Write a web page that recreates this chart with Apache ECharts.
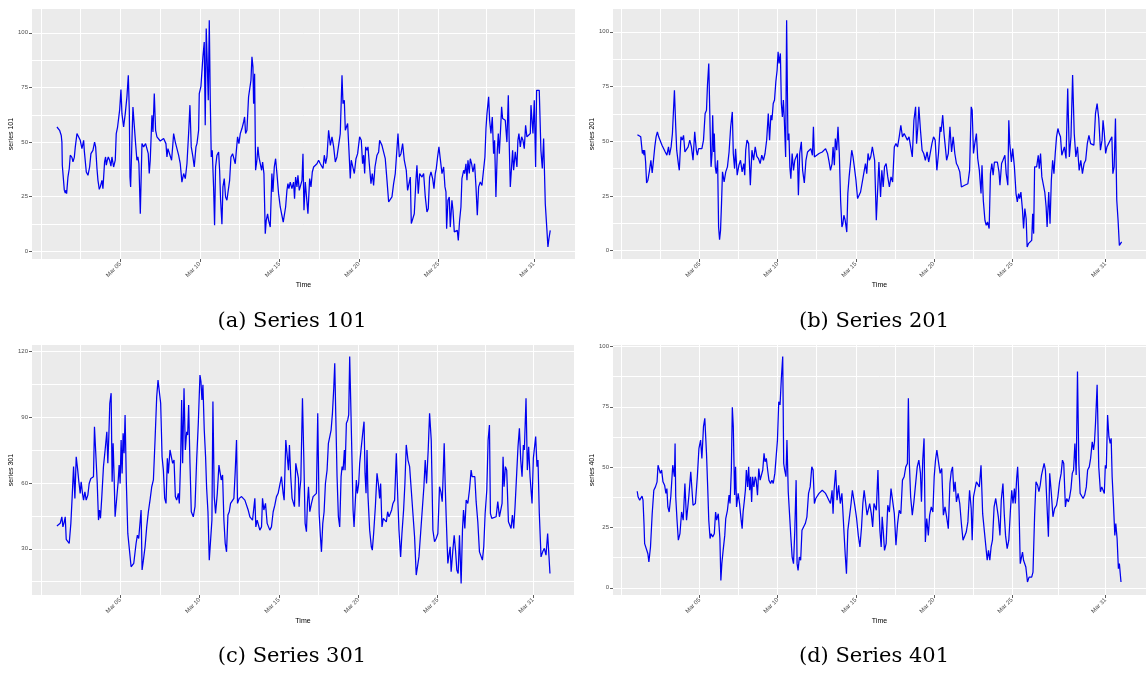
<!DOCTYPE html>
<html>
<head>
<meta charset="utf-8">
<title>Series 101-401</title>
<script src="https://cdn.jsdelivr.net/npm/echarts@6/dist/echarts.min.js"></script>
<style>
  html, body { margin: 0; padding: 0; background: #fff; }
  #chart { width: 1146px; height: 673px; }
</style>
</head>
<body>
<div id="chart"></div>
<script>
// hours since Mar 01 00:00, value
const series101 = [[0.4,56.9],[4.4,55.4],[6.9,53],[7.9,50],[8.5,39.4],[10.5,38.6],[11.5,28],[13,26.7],[14,28],[15,26.4],[17,34],[19,37.9],[20.5,44],[23,43],[24.6,41],[26.6,43],[28.1,47.8],[30.6,53.9],[32.6,54.6],[35.6,50.8],[38.1,47],[40.7,50.8],[41.7,46],[44.7,36.3],[47.2,34.8],[49.7,38.6],[51.7,44.7],[54.7,46.2],[57.2,50],[58.8,47.8],[60.8,37.9],[62.3,32.5],[64.3,28.4],[65.8,29.5],[68.3,32.5],[69.8,28.7],[72.3,40.9],[73.8,43.2],[74.9,39.4],[76.4,41.7],[77.9,43.2],[79.9,41.7],[81.9,39],[83.4,43.2],[85.9,38.6],[88.4,41.7],[89.9,53.9],[91.9,56.9],[95,64.6],[97,74],[98.5,63],[101,56.9],[103.5,63],[106,70.7],[108.1,80.6],[109.6,64.6],[110.6,34],[111.6,29.5],[113.6,50.8],[115.1,66],[117.1,65.8],[119.1,49.3],[121.1,41.7],[122.6,43.2],[124.1,40.1],[126.2,17.2],[128.7,49.3],[131.2,47.8],[134.2,49.3],[136.7,49.3],[138.2,44.7],[139.7,35.6],[141.2,41.7],[143.8,62.3],[145.3,54.6],[147.3,72.2],[149.3,55.4],[151.3,52.4],[156.3,50.5],[161.4,51.6],[164.9,49.3],[166.4,43.2],[167.9,47],[169.9,47.8],[173.4,41.7],[175.4,49.3],[176.5,53.9],[179,50],[181.5,50],[184,44],[186.5,40.1],[189,31.7],[191.6,35.6],[194.1,33.3],[196.6,40.1],[199.1,53.9],[201.1,66.9],[203.1,47.8],[205.6,43.2],[207.6,38.6],[210.2,47.8],[211.7,49.3],[214.2,55.4],[215.2,72.2],[217.7,75.5],[219.2,75.2],[220.7,89],[222.7,95.8],[224.2,57.7],[225.7,102],[227.3,85.2],[228.8,69.1],[230.3,105.8],[231.8,69.1],[233.3,43.2],[234.8,46.2],[236.8,29.5],[238.3,11.9],[239.8,38.6],[241.9,44],[244.4,45.5],[245.9,37.1],[247.4,23.4],[249.4,12.4],[250.9,29.5],[252.9,33.3],[254.9,24.9],[256.9,23.4],[259,24.1],[261,32.5],[263,43.2],[265.5,44.7],[267,44],[269.5,40.1],[271,45.5],[273,52.4],[275,49.3],[277.1,53.9],[279.6,56.2],[282.1,59.2],[283.6,61.5],[285.1,53.9],[287.1,55.4],[289.6,70.7],[291.1,71.4],[293.2,78.3],[294.7,89],[296.2,84.4],[297.2,67.6],[298.7,81.3],[300.2,37.1],[302.2,41.7],[303.7,47.8],[305.2,43.2],[307.2,43.2],[309.3,37.1],[310.8,40.9],[312.8,35.6],[314.8,8.1],[316.3,14.2],[318.3,17.2],[319.8,14.2],[322.3,11.1],[324.8,35.6],[326.4,27.2],[328.4,38.6],[330.4,42.4],[332.4,35.6],[334.9,26.4],[337.4,20.3],[339.9,19.5],[341.9,13.4],[343.5,14.2],[345.5,20.3],[347.5,27.9],[349,31],[350.5,28.7],[352.5,31.7],[355,28.7],[357.5,31.7],[359,24.1],[360.6,34],[362.6,29.5],[364.1,34.8],[366.1,27.9],[367.6,28.7],[368.7,27.9],[370.2,32.5],[371.7,44.7],[373.2,18.8],[375.2,31.7],[377.7,31],[379.2,17.2],[381.8,33.3],[383.8,29.5],[385.8,36.3],[387.8,38.6],[390.3,38.6],[392.8,40.1],[395.3,41.7],[397.9,40.1],[400.4,40.9],[401.9,37.9],[403.9,44],[405.9,40.1],[407.9,43.2],[410.4,55.4],[413,48.5],[415.5,52.4],[418,47.8],[420.5,40.9],[423,43.2],[425.5,44],[428,53.9],[430.6,80.6],[432.1,67.6],[434.1,69.1],[435.6,55.4],[437.1,56.2],[439.1,58.5],[441.1,46.2],[443.1,33.3],[444.6,41.7],[446.7,41.7],[449.2,35.6],[451.7,42.4],[454.2,44.7],[457.2,52.4],[459.7,50.8],[461.7,40.1],[463.3,44],[464.8,35.6],[466.3,47.8],[468.3,46.2],[469.8,47.8],[471.8,40.1],[474.3,31],[476.3,35.6],[478.3,30.2],[480.4,38.6],[483.4,44],[485.9,45.5],[487.4,50.8],[489.4,51.6],[490.9,48.5],[493.4,49.3],[495.9,42.4],[498.5,32.5],[501,22.6],[503.5,21.8],[506,24.9],[508.5,31],[511,35.6],[513.6,34.8],[515.1,53.9],[517.1,43.2],[519.6,44.7],[522.1,49.3],[524.6,41.7],[527.6,37.1],[529.6,27.9],[532.2,28.7],[533.7,34],[535.2,12.7],[537.2,13.4],[539.7,17.2],[542.2,32.5],[543.7,39.4],[545.7,26.4],[547.8,35.6],[549.8,36.3],[551.3,34],[553.8,35.6],[556.3,24.9],[558.8,18],[560.8,19.5],[562.8,34],[564.9,36.3],[567.4,33.3],[569.4,28.7],[571.4,35.6],[572.9,37.9],[574.9,43.2],[576.9,47.8],[578.9,42.4],[581.5,35.6],[584,38.6],[586,29.5],[587.5,27.2],[588.5,10.4],[590.5,23.4],[592.5,24.9],[594,11.1],[596.5,23.4],[598.1,18.8],[600.1,8.9],[602.6,8.1],[604.6,9.6],[606.1,5],[608.1,14.2],[610.1,20.3],[611.6,33.3],[614.2,37.1],[615.7,35.6],[617.7,40.1],[619.2,32.5],[620.7,41.7],[622.7,35.6],[624.2,42.4],[626.2,40.1],[628.2,36.3],[630.7,40.1],[632.8,29.5],[634.8,16.5],[636.8,29.5],[639.3,31.7],[641.8,30.2],[644.3,31],[646.3,43.2],[647.9,56.2],[649.4,63],[651.9,70.7],[653.4,60],[655.4,53.9],[657.4,61.5],[659.4,44.7],[660.9,50.8],[662.9,24.9],[665,46.2],[666.5,53.9],[668,44.7],[670,56.2],[671.5,66.1],[673,60.8],[674.5,60.8],[677,60],[679.5,50],[681.6,71.4],[683.1,47.8],[684.6,29.5],[686.6,29.5],[688.1,46.2],[689.6,37.1],[692.1,45.5],[694.6,38.6],[696.1,50.8],[697.6,53.9],[699.7,47.8],[701.7,52.4],[703.7,50.8],[705.7,47],[707.7,57.7],[709.7,52.4],[712.2,51.6],[714.8,53.9],[715.8,66.9],[717.8,67.6],[718.8,53.9],[720.8,69.1],[722.8,38.6],[724.3,73.7],[725.8,74.5],[728.3,73.7],[730.8,46.2],[732.9,37.9],[734.9,51.6],[737.4,21.8],[739.9,9.6],[741.4,2],[742.9,5.8],[744.9,9.6]];

const series201 = [[0.3,53],[5.4,52],[6.9,51.2],[7.9,44.4],[9.4,45.9],[10.4,43.6],[11.4,45.9],[12.9,40.5],[14.4,30.9],[16.4,32.2],[18.9,36.7],[21,41.3],[23,35.5],[24.5,39.8],[27,47.4],[29,52],[31,54.3],[33,52],[35.5,51.2],[38.1,48.2],[40.6,47.4],[43.1,45.1],[45.6,43.6],[48.1,47.4],[49.6,43.6],[52.1,47.4],[54.1,53.5],[57.2,73.3],[59.2,56.6],[60.7,45.9],[63.2,39.8],[64.7,36.7],[67.2,52],[69.2,50.5],[71.2,52.7],[73.3,45.1],[75.8,44.4],[78.3,47.4],[80.8,50.5],[83.3,47.4],[85.8,41.3],[88.4,54.3],[90.9,45.9],[92.4,43.6],[94.4,46.6],[97.4,47.4],[99.4,46.6],[101.9,50.5],[104.4,62.7],[106.5,64.2],[108,75.6],[110,85.5],[112,56.6],[113.5,38.3],[115,44.4],[116,61.9],[117.5,45.1],[118.5,53.5],[120,38.3],[121.5,35.2],[123.6,41.3],[125.1,10.8],[126.6,5],[128.1,9.3],[129.6,21.5],[131.1,36],[133.6,31.4],[136.1,36],[138.7,38.3],[141.2,45.1],[143.7,56.6],[146.2,63.4],[147.7,44.4],[149.7,37.5],[151.2,46.6],[153.7,34.5],[156.3,39],[158.8,41.3],[161.3,36],[163.8,39.8],[165.3,34.5],[166.8,45.9],[168.8,50.5],[171.3,48.9],[173.9,29.9],[176.4,45.9],[178.9,41.3],[181.4,47.4],[183.9,43.1],[186.4,42.1],[189,39.8],[191.5,43.6],[194,41.3],[196.5,44.4],[199,50.5],[201.5,62.7],[203.5,50.5],[205.5,61.9],[207.1,59.6],[209.1,67.2],[211.1,68.8],[213.1,77.1],[215.1,82.5],[216.6,90.9],[218.1,85.5],[220.1,90.1],[221.6,67.2],[223.2,61.1],[224.7,68.8],[226.2,59.6],[228.2,42.8],[229.7,105.3],[231.7,50.5],[233.2,53.5],[234.7,38.3],[236.2,32.9],[238.2,44.4],[240.3,36.7],[242.3,41.3],[244.3,41.3],[246.3,44.4],[247.8,25.3],[249.8,44.4],[252.3,49.7],[254.3,36.7],[256.9,30.9],[259.4,41.3],[261.9,45.1],[264.4,45.9],[266.9,46.6],[269.4,43.6],[270.9,56.6],[272.4,42.8],[274.5,42.8],[279.5,44.4],[284.5,45.1],[289.6,46.6],[292.6,44.4],[294.6,41.3],[297.1,36.7],[299.6,39.8],[301.1,47.4],[303.1,39],[304.6,51.2],[306.7,45.9],[308.7,56.6],[310.7,44.4],[312.7,23],[314.7,10.8],[316.2,12.3],[317.7,16.2],[319.7,13.9],[322.2,8.5],[323.8,26.1],[325.8,33.7],[327.8,33.7],[329.8,45.9],[331.8,42.8],[333.8,38.3],[336.3,32.2],[338.8,23.8],[341.4,23],[343.4,26.8],[344.9,26.1],[347.4,33.7],[348.9,34.5],[350.9,39.8],[352.9,35.2],[354.9,44.4],[356.9,41.3],[359,42.8],[361.5,47.4],[363.5,48.2],[365,41.3],[367.6,13.9],[370.1,30.6],[371.6,40.5],[374.1,24.5],[376.1,36.7],[378.2,29.1],[380.2,38.3],[382.7,39.8],[385.2,33.7],[387.7,29.1],[390.2,33.7],[392.7,31.4],[395.3,47.4],[397.8,48.9],[400.3,47.4],[402.8,52],[405.3,57.3],[407.8,52],[410.4,53.5],[412.9,52],[415.4,50.5],[417.9,52],[420.4,47.4],[422.9,42.8],[425.4,59.6],[428,65.7],[429.5,48.9],[431.5,56.6],[433,65.7],[435.5,55],[438,45.9],[440.5,44.4],[443,41.3],[445.6,45.1],[448.1,40.5],[450.6,40.5],[453.1,48.9],[455.6,52],[458.1,50.5],[460.7,36.7],[463.2,44.4],[465.7,56.6],[467.2,54.3],[469.7,61.9],[471.7,53.5],[473.2,48.9],[475.7,41.3],[478.3,44.4],[480.8,56.6],[483.3,45.1],[485.8,52],[488.3,44.4],[490.8,39.8],[493.3,38.3],[495.9,36],[498.4,29.1],[500.9,29.1],[503.4,29.9],[505.9,29.1],[508.4,30.6],[511,36.7],[513.5,65.7],[515,64.2],[517,44.4],[519,48.9],[521.5,53.5],[523.5,42.1],[526,36.7],[528.6,26.1],[530.1,39],[532.1,23],[534.6,13.9],[536.6,11.6],[538.6,13.1],[541.1,10.1],[543.1,35.2],[545.2,39.8],[547.2,34.5],[549.2,40.5],[551.2,41.3],[553.7,40.5],[556.2,36],[557.7,29.9],[560.2,39.8],[562.3,41.3],[565.3,43.6],[567.3,35.2],[569.8,29.9],[571.3,59.6],[572.8,48.9],[575.3,40.5],[577.3,46.6],[579.9,38.3],[582.4,26.1],[584.4,22.3],[586.4,26.1],[587.9,23.8],[589.9,26.8],[592.4,18.4],[594,10.1],[596,19.2],[598,14.6],[599.5,1.7],[601.5,3.2],[604,3.2],[606.5,4.7],[608,16.9],[609.5,7.8],[611,38.3],[614.1,38.3],[616.6,43.6],[618.1,37.5],[620.1,44.4],[622.1,33.7],[624.1,33.7],[626.6,26.8],[628.7,20],[630.2,10.8],[632.7,26.8],[634.7,12.3],[636.7,32.2],[638.7,41.3],[640.7,35.2],[642.7,44.4],[644.7,52],[646.8,55.8],[648.8,53.5],[650.8,52],[652.8,43.6],[654.8,44.4],[656.8,47.4],[659.3,42.1],[661.9,74.1],[664.4,42.8],[666.9,52],[669.4,80.2],[671.9,53.5],[674.4,42.8],[676.9,47.4],[679.5,36.7],[682,41.3],[684.5,35.2],[687,39.8],[689.5,41.3],[692,48.9],[694.5,52.7],[697.1,48.9],[699.6,49.7],[702.1,48.2],[704.6,62.7],[707.1,67.2],[709.6,60.4],[712.2,45.9],[714.7,50.5],[716.2,59.6],[718.2,53.5],[720.2,44.4],[722.2,47.4],[724.7,48.9],[727.2,48.9],[729.8,52],[731.3,35.2],[733.3,38.3],[735.3,60.4],[737.3,23],[739.3,13.9],[741.3,2.4],[743.3,3.2],[744.8,4]];

const series301 = [[0.4,40.4],[5.4,41.6],[7.9,44.6],[9.5,40],[11.5,42.3],[13,44.6],[14.5,34.3],[17,34],[19,32.4],[21.5,41.6],[23.5,53.8],[25.6,67.5],[27.6,53],[29.6,72],[31.6,66.7],[33.6,60.6],[35.6,55.3],[37.1,60.6],[39.1,55.3],[40.7,52.2],[42.7,56],[44.7,52.2],[47.2,54.5],[49.2,59.8],[51.7,62.1],[54.2,62.1],[55.7,62.9],[57.2,85.7],[59.3,86.5],[61.3,60.6],[63.3,43.1],[64.8,47.7],[66.3,43.9],[68.3,53.8],[70.8,67.5],[73.3,75.1],[75.9,83.4],[77.4,69],[78.9,81.2],[80.4,96.4],[82.4,101],[83.9,60.6],[85.4,78.1],[86.9,62.9],[88.4,44.6],[90.9,45.4],[93,60.6],[94.5,68.2],[96,59.8],[97.5,79.6],[99,64.4],[100.5,82.7],[102,73.6],[103.5,91.1],[105.5,59.1],[107.6,37],[110.1,29.4],[112.6,21.8],[114.6,22.5],[116.6,23.3],[118.6,22.5],[120.1,32.4],[122.1,36.2],[124.1,34.7],[126.2,34],[127.7,47.7],[129.2,20.3],[131.2,24.8],[133.7,30.9],[136.2,40],[138.7,46.9],[141.2,52.2],[143.8,58.3],[146.3,61.4],[148.8,79.6],[151.3,99.4],[153.3,107],[155.3,106.3],[157.3,96.4],[159.4,72],[161.4,65.9],[163.4,53],[165.4,50.7],[167.4,71.3],[168.9,64.4],[171.4,75.1],[173.4,75.8],[175.4,69],[177.5,70.5],[179.5,53.8],[181.5,52.2],[184,55.3],[185.5,50.7],[187.5,70.5],[189,97.9],[190.5,69],[192.6,103.2],[194.6,75.1],[196.6,83.4],[198.1,81.9],[199.6,95.6],[201.6,69],[203.6,46.9],[206.6,44.6],[209.2,49.2],[211.7,70.5],[214.2,87.3],[216.7,109.3],[218.2,106.3],[219.7,97.9],[221.2,104.8],[223.2,84.2],[225.2,72],[226.8,57.6],[228.8,46.9],[230.8,24.8],[232.8,25.6],[234.8,43.1],[236.3,97.2],[238.3,53.8],[240.3,46.1],[242.9,55.3],[245.4,68.2],[246.9,69],[248.9,61.4],[250.9,63.7],[252.9,43.1],[254.9,32.4],[256.9,28.6],[259,45.4],[261,46.9],[263,50.7],[265.5,51.5],[268,53],[270,65.2],[272,79.6],[273.5,50.7],[276.1,53],[279.6,53.8],[284.6,52.2],[289.6,47.7],[292.2,44.6],[296.2,43.1],[298.2,43.9],[299.7,53],[301.2,40],[303.2,43.1],[305.2,40.8],[307.2,38.5],[309.8,40],[311.3,53],[313.3,47.7],[315.8,50.7],[318.3,41.6],[320.3,42.3],[322.3,38.5],[324.8,40],[327.4,46.9],[329.9,49.9],[332.4,53.8],[334.9,55.3],[337.4,55.3],[339.9,62.9],[342.5,55.3],[344,52.2],[346.5,79.6],[348.5,80.4],[350.5,65.9],[352,77.4],[354,62.9],[356,53],[358,53],[359.6,49.2],[361.6,69],[363.6,68.2],[365.6,62.1],[366.6,49.2],[367.7,56.8],[369.2,61.4],[371.7,98.7],[373.7,72],[375.7,41.6],[377.7,37.8],[379.2,50.7],[380.8,58.3],[382.8,46.9],[385.3,50.7],[387.8,53.8],[390.3,54.5],[392.8,55.3],[394.8,91.8],[396.9,46.1],[398.9,35.5],[400.4,28.6],[402.4,41.6],[404.4,46.9],[406.4,59.8],[408.9,65.9],[410.9,78.1],[413,81.2],[415,84.2],[417,91.8],[419,103.2],[420.5,114.7],[422,91.8],[424,62.9],[426,44.6],[428,40],[430.1,62.9],[431.6,67.5],[433.1,65.9],[435.1,75.1],[436.1,65.9],[438.1,87.3],[440.1,88.8],[441.6,91.1],[443.1,117.7],[444.6,97.9],[446.7,69],[448.2,47.7],[449.7,40],[451.7,39.3],[453.2,61.4],[454.7,55.3],[456.7,59.8],[458.2,69],[460.7,76.6],[463.3,84.2],[464.8,88],[466.3,64.4],[467.8,55.3],[469.3,75.1],[470.8,53.8],[473.3,38.5],[475.8,30.9],[477.3,29.4],[479.3,37],[481.9,49.2],[484.4,64.4],[486.4,59.8],[488.4,53],[489.9,59.8],[491.9,40],[493.9,43.9],[495.9,43.9],[498.5,42.3],[500.5,46.9],[502.5,44.6],[504.5,46.1],[506.5,47.7],[508.5,50.7],[511,52.2],[513.6,73.6],[516.1,50.7],[517.6,38.5],[520.1,26.3],[522.1,37],[524.6,47.7],[526.6,59.8],[528.6,77.4],[531.2,70.5],[533.7,67.5],[536.2,56.8],[538.7,46.1],[541.2,35.5],[543.7,18],[545.7,18],[547.8,26.3],[550.3,37],[552.8,47.7],[555.3,58.3],[557.3,70.5],[559.3,59.8],[561.8,75.1],[563.9,91.8],[566.4,79.6],[568.9,38.5],[571.4,33.2],[573.9,34.7],[576.4,37],[578.9,58.3],[581,56],[583,51.5],[584,59.8],[586,78.1],[587.5,59.1],[589,44.6],[591.5,23.3],[593.5,22.5],[595,30.9],[596.5,19.5],[599.1,29.4],[601.1,36.2],[603.1,29.4],[605.1,20.3],[607.1,18.7],[609.1,36.2],[611.6,14.2],[613.6,38.5],[615.2,47.7],[617.2,39.3],[619.2,52.2],[621.7,50.7],[624.2,56.8],[626.7,65.9],[628.2,62.9],[630.2,62.1],[632.3,62.9],[634.3,51.5],[636.8,42.3],[639.3,28.6],[641.8,29.4],[643.8,24.8],[645.8,30.9],[647.9,46.1],[650.4,56.8],[652.4,79.6],[654.4,86.5],[655.9,46.1],[657.9,43.9],[660.9,43.1],[664.5,44.6],[667,51.5],[669.5,44.6],[671.5,45.4],[673.5,50.7],[675,72],[676.5,58.3],[678.5,67.5],[680.5,65.9],[683.1,42.3],[685.1,41.6],[687.1,39.3],[689.1,45.4],[691.1,39.3],[693.1,49.2],[695.6,64.4],[697.6,76.6],[699.7,85],[701.7,70.5],[703.7,62.9],[705.7,77.4],[707.2,75.1],[709.7,98.7],[711.7,65.9],[713.7,76.6],[715.8,62.9],[717.8,62.1],[718.8,50.7],[720.8,71.3],[722.8,72],[724.3,81.2],[726.3,67.5],[727.8,70.5],[729.8,46.1],[732.4,26.3],[734.9,28.6],[737.4,30.2],[739.9,27.1],[742.4,37],[743.9,37],[745.9,18.7]];

const series401 = [[0,40],[1.3,37.7],[3.8,36.3],[5.9,37],[7.4,38],[8.9,36.3],[10.4,26.6],[11.4,18.3],[12.9,19],[14.4,17.6],[16.4,14.1],[17.9,10.7],[20.4,16.9],[23,30.7],[25.5,40.4],[28,41.8],[30.5,43.9],[32,50.8],[34,50.1],[35.5,47.4],[37.5,48.8],[39.6,43.9],[42.1,42.5],[44.1,39.1],[45.6,41.1],[47.1,33.5],[49.1,31.4],[51.6,37.7],[54.6,50.8],[57.2,46],[58.2,59.8],[59.2,37.7],[61.2,28],[63.2,19.7],[65.7,22.4],[68.2,31.4],[70.7,28],[73.3,43.2],[75.8,28],[79.3,37.7],[82.3,48.1],[85.8,34.2],[89.4,34.9],[92.4,46],[94.9,57.8],[97.4,61.2],[99.4,53.6],[101.9,66.8],[103.9,70.2],[106.5,55.7],[108.5,40.4],[110,28],[112,20.4],[113.5,22.4],[116,21.1],[118.5,22.4],[120.5,31.4],[122.1,28],[124.6,30.7],[127.1,20.4],[128.6,3],[130.1,10],[132.1,15.5],[134.6,21.7],[136.1,28.7],[138.7,32.1],[141.2,38.4],[142.7,34.9],[144.7,48.8],[146.2,74.8],[147.7,66.8],[149.7,38.4],[151.2,50.1],[152.7,33.5],[155.2,39.1],[157.3,34.9],[159.8,28],[161.3,24.5],[162.8,31.4],[164.8,36.3],[166.3,40.4],[167.8,48.8],[169.8,41.8],[171.3,50.1],[172.9,40.4],[174.4,46],[175.9,35.6],[177.4,46],[179.4,41.8],[181.4,46],[182.9,44.6],[184.9,38.4],[186.9,49.4],[189,44.6],[191,44.6],[193,48.8],[195,55.7],[196.5,52.2],[198.5,53.6],[200.5,48.8],[202.5,44.6],[205,43.2],[207.1,44.6],[209.1,43.2],[211.6,47.4],[213.6,48.1],[215.6,61.2],[217.6,77.1],[219.6,75.8],[221.6,86.8],[223.7,95.8],[225.2,51.5],[226.7,48.8],[228.7,46],[230.2,61.2],[232.2,39.8],[234.2,40.4],[236.2,21.1],[238.2,12.7],[240.3,10],[242.3,23.8],[244.3,44.6],[245.8,10],[247.3,7.2],[249.3,12.7],[251.3,11.4],[253.3,23.8],[255.8,23.8],[258.4,26.6],[260.9,29.4],[263.4,39.1],[265.9,41.8],[268.4,50.1],[270.4,48.8],[272.4,34.9],[274.5,37],[279.5,39.1],[284.5,40.4],[289.6,39.1],[292.1,37.7],[294.6,36.3],[297.1,34.9],[299.6,40.4],[301.1,30.7],[302.6,40.4],[305.1,48.8],[307.2,36.3],[309.7,42.5],[312.2,34.9],[314.7,39.1],[317.2,26.6],[319.7,14.1],[321.7,5.8],[323.8,23.8],[325.8,24.5],[328.8,34.9],[330.8,40.4],[332.8,37],[334.8,33.5],[337.3,28.7],[339.9,21.7],[342.4,16.9],[344.9,25.2],[346.9,34.9],[348.9,40.4],[351.4,41.1],[353.4,30.1],[354.9,29.4],[357.4,34.9],[359.9,30.7],[362,25.2],[364,34.9],[365.1,35.6],[367.6,32.1],[370.1,48.8],[371.6,34.9],[373.1,23.8],[375.1,16.9],[376.6,29.4],[378.2,23.8],[380.2,15.5],[382.7,18.3],[385.2,34.2],[387.7,31.4],[390.2,41.1],[392.7,40.4],[395.3,30.7],[397.8,17.6],[400.3,26.6],[402.8,32.1],[405.3,30.7],[407.8,44.6],[410.4,46],[412.9,50.1],[415.4,51.5],[416.9,78.5],[418.4,51.5],[420.4,37.7],[422.9,30.1],[425.4,35.6],[428,34.9],[430.5,50.1],[433,52.9],[435.5,47.4],[437,35.6],[439,52.9],[441,61.9],[443,19],[445.1,28.7],[447.6,21.7],[449.6,30.1],[452.1,33.5],[454.6,31.4],[456.6,46],[458.6,52.9],[460.7,57.1],[463.2,52.2],[465.7,47.4],[468.2,49.4],[470.7,30.1],[473.2,33.5],[475.7,29.4],[478.3,24.5],[480.8,43.2],[482.8,48.1],[484.8,50.1],[486.8,39.8],[488.8,43.9],[490.8,35.6],[493.3,39.1],[495.9,34.9],[498.4,26.6],[500.9,19.7],[503.4,20.4],[505.9,23.1],[508.4,27.3],[511,40.4],[513.5,32.8],[515,19.7],[517,37.7],[519,38.4],[521.5,43.9],[523.5,43.2],[526,41.8],[528.6,50.8],[531.1,30.7],[533.6,31.4],[536.1,16.9],[538.1,11.4],[540.1,15.5],[542.1,11.4],[544.1,16.9],[546.2,19.7],[548.7,33.5],[551.2,37],[553.2,36.3],[555.2,29.4],[557.7,21.7],[559.7,36.3],[562.3,43.2],[564.3,30.7],[566.3,21.7],[568.8,16.2],[571.3,19.7],[573.8,32.1],[575.8,40.4],[577.8,34.9],[579.9,41.1],[581.4,34.9],[583.4,45.3],[584.9,50.1],[586.4,40.4],[588.9,10],[590.4,10.7],[592.4,14.8],[594,11.4],[595.5,12],[597.5,8.6],[600,2.4],[602.5,4.4],[604.5,5.1],[606.5,4.4],[608.5,6.5],[611,30.1],[613.1,43.9],[615.6,42.5],[617.6,39.8],[619.6,42.5],[621.6,46.7],[623.6,47.4],[625.6,51.5],[627.6,48.8],[629.7,48.8],[632.2,21.1],[634.2,47.4],[636.7,39.1],[639.2,29.4],[641.7,32.8],[644.7,34.2],[646.8,37.7],[649.3,43.9],[651.8,47.4],[653.8,52.9],[655.8,51.5],[658.3,33.5],[660.3,37],[662.9,35.6],[664.9,37.7],[666.9,41.1],[668.9,47.4],[670.9,48.8],[672.9,59.8],[674.9,46.7],[676.9,89.6],[679,51.5],[681,39.1],[683,38.4],[685.5,37],[688,38.4],[690.5,41.8],[692.5,48.8],[695,50.1],[697.1,53.6],[699.6,60.5],[701.6,57.1],[703.1,60.5],[704.6,68.1],[707.1,84.1],[709.6,50.1],[712.2,39.8],[714.2,41.8],[716.2,42.5],[718.2,39.1],[719.7,50.8],[721.2,49.4],[723.2,71.6],[725.2,62.6],[727.2,59.8],[728.7,61.9],[730.2,46],[732.2,34.9],[734.3,21.7],[735.8,26.6],[737.8,20.4],[739.8,7.9],[741.3,10],[743.8,2.4]];

// time axis: hours since Mar 01
const timeRange = [-37.25, 782.25];
const gridHours = [-24, 36, 96, 156, 216, 276, 336, 396, 456, 516, 576, 648, 720];
const tickHours = [96, 216, 336, 456, 576, 720];
const tickLabels = ['Mar 05', 'Mar 10', 'Mar 15', 'Mar 20', 'Mar 25', 'Mar 31'];

const yRange101 = [-3.5, 110.9];
const yRange201 = [-3.8, 110.4];
const yRange301 = [8.9, 123];
const yRange401 = [-3, 100.6];
const yGrid25 = [0, 12.5, 25, 37.5, 50, 62.5, 75, 87.5, 100];
const yTicks25 = [0, 25, 50, 75, 100];
const yGrid30 = [15, 30, 45, 60, 75, 90, 105, 120];
const yTicks30 = [30, 60, 90, 120];

const names = ['series 101', 'series 201', 'series 301', 'series 401'];
const captions = ['(a) Series 101', '(b) Series 201', '(c) Series 301', '(d) Series 401'];

const chart = echarts.init(document.getElementById('chart'));

const grids = [], xAxes = [], yAxes = [], series = [], graphics = [];
const labelColor = '#4D4D4D';

function addPanel(i, box, yRange, yGrid, yTicks, data, capPos) {
  grids.push({
    left: box[0], top: box[1], width: box[2], height: box[3],
    show: true, backgroundColor: '#EBEBEB', borderWidth: 0
  });
  // main axes carry the grid lines and labels
  xAxes.push({
    gridIndex: i, type: 'value', position: 'bottom',
    min: timeRange[0], max: timeRange[1],
    axisLine: { show: false },
    axisTick: { show: false, customValues: gridHours },
    axisLabel: {
      customValues: tickHours, rotate: 45, fontSize: 6, color: labelColor,
      fontFamily: 'Liberation Sans', margin: 4,
      formatter: (v) => tickLabels[tickHours.indexOf(v)] || ''
    },
    splitLine: { show: true, lineStyle: { color: '#FFFFFF', width: 1 } },
    name: 'Time', nameLocation: 'middle', nameGap: 20,
    nameTextStyle: { fontSize: 7, color: '#000', fontFamily: 'Liberation Sans' }
  });
  yAxes.push({
    gridIndex: i, type: 'value', position: 'left',
    min: yRange[0], max: yRange[1],
    axisLine: { show: false },
    axisTick: { show: false, customValues: yGrid },
    axisLabel: { customValues: yTicks, fontSize: 6, color: labelColor, fontFamily: 'Liberation Sans', margin: 4 },
    splitLine: { show: true, lineStyle: { color: '#FFFFFF', width: 1 } },
    name: names[i], nameLocation: 'middle', nameGap: 15,
    nameTextStyle: { fontSize: 7, color: '#000', fontFamily: 'Liberation Sans' }
  });
  // second pair only draws the small tick marks at the labelled values
  xAxes.push({
    gridIndex: i, type: 'value', position: 'bottom',
    min: timeRange[0], max: timeRange[1],
    axisLine: { show: false, onZero: false },
    axisTick: { show: true, customValues: tickHours, length: 3, lineStyle: { color: '#333', width: 0.8 } },
    axisLabel: { show: false },
    splitLine: { show: false }
  });
  yAxes.push({
    gridIndex: i, type: 'value', position: 'left',
    min: yRange[0], max: yRange[1],
    axisLine: { show: false, onZero: false },
    axisTick: { show: true, customValues: yTicks, length: 3, lineStyle: { color: '#333', width: 0.8 } },
    axisLabel: { show: false },
    splitLine: { show: false }
  });
  series.push({
    type: 'line', xAxisIndex: 2 * i, yAxisIndex: 2 * i,
    data: data, showSymbol: false, symbol: 'none',
    lineStyle: { color: '#0000F0', width: 1.25 },
    silent: true
  });
  graphics.push({
    type: 'text', x: capPos[0], y: capPos[1],
    style: {
      text: captions[i], font: '21px "DejaVu Serif"', fill: '#000',
      textAlign: 'center', textVerticalAlign: 'middle', align: 'center', verticalAlign: 'middle'
    }
  });
}

addPanel(0, [32, 9, 543, 250], yRange101, yGrid25, yTicks25, series101, [292, 322]);
addPanel(1, [613, 9, 543, 250], yRange201, yGrid25, yTicks25, series201, [874, 322]);
addPanel(2, [32, 345, 542, 250], yRange301, yGrid30, yTicks30, series301, [292, 657]);
addPanel(3, [613, 345, 543, 250], yRange401, yGrid25, yTicks25, series401, [874, 657]);

chart.setOption({
  animation: false,
  backgroundColor: '#FFFFFF',
  grid: grids,
  xAxis: xAxes,
  yAxis: yAxes,
  series: series,
  graphic: graphics
});
</script>
</body>
</html>
